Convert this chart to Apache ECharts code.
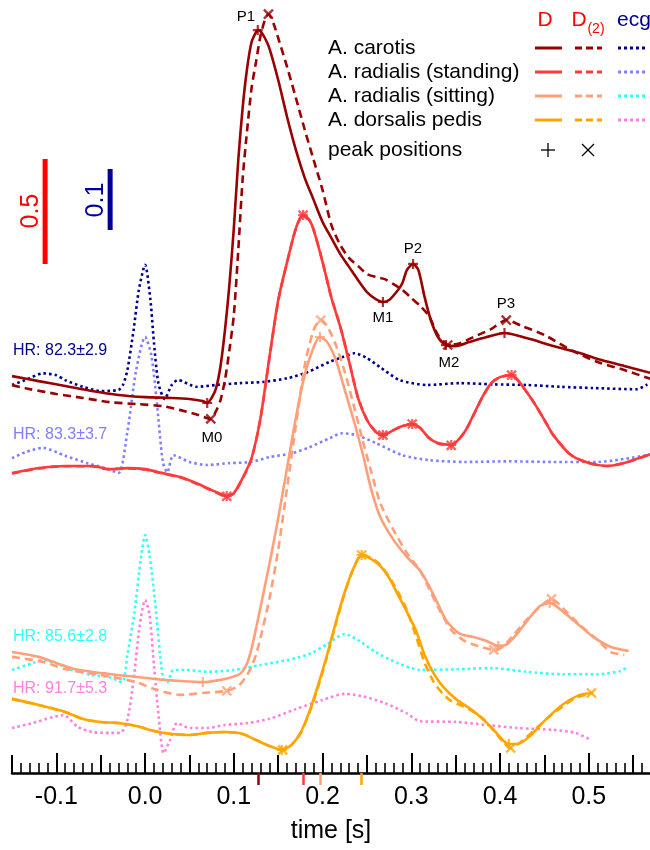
<!DOCTYPE html>
<html>
<head>
<meta charset="utf-8">
<script src="https://cdn.jsdelivr.net/npm/echarts@6/dist/echarts.min.js"></script>
<style>
  html, body { margin: 0; padding: 0; background: #fff; }
  #chart { width: 650px; height: 850px; }
</style>
</head>
<body>
<div id="chart"></div>
<script>
// ---- averaged pulse waves, [time s, D] ----
const carotisD = [[-0.15,0.114],[-0.12,0.090],[-0.09,0.067],[-0.06,0.043],[-0.03,0.024],[0.0,0.014],[0.03,0.010],[0.05,0.005],[0.065,-0.005],[0.07,-0.014],[0.075,0.010],[0.08,0.057],[0.085,0.162],[0.09,0.333],[0.095,0.548],[0.10,0.819],[0.105,1.143],[0.11,1.395],[0.115,1.581],[0.12,1.705],[0.125,1.752],[0.127,1.762],[0.13,1.757],[0.135,1.724],[0.14,1.676],[0.15,1.524],[0.16,1.348],[0.17,1.190],[0.18,1.057],[0.19,0.952],[0.20,0.848],[0.21,0.771],[0.22,0.695],[0.23,0.633],[0.24,0.571],[0.25,0.514],[0.26,0.481],[0.268,0.467],[0.275,0.476],[0.285,0.524],[0.29,0.557],[0.295,0.619],[0.302,0.648],[0.308,0.619],[0.315,0.490],[0.322,0.381],[0.33,0.300],[0.339,0.262],[0.35,0.257],[0.365,0.276],[0.385,0.300],[0.405,0.319],[0.43,0.295],[0.46,0.257],[0.49,0.224],[0.51,0.195],[0.54,0.162],[0.57,0.129]];
const carotisD2 = [[-0.15,0.071],[-0.13,0.052],[-0.10,0.029],[-0.07,0.010],[-0.04,-0.010],[-0.01,-0.019],[0.02,-0.029],[0.04,-0.048],[0.06,-0.071],[0.074,-0.090],[0.08,-0.052],[0.085,0.0],[0.09,0.095],[0.095,0.238],[0.10,0.405],[0.105,0.714],[0.11,1.057],[0.115,1.286],[0.12,1.486],[0.125,1.610],[0.13,1.733],[0.135,1.810],[0.139,1.838],[0.145,1.790],[0.15,1.724],[0.16,1.586],[0.17,1.438],[0.18,1.286],[0.19,1.143],[0.20,1.000],[0.21,0.833],[0.22,0.738],[0.23,0.676],[0.24,0.638],[0.25,0.600],[0.26,0.586],[0.27,0.576],[0.28,0.552],[0.29,0.524],[0.30,0.486],[0.31,0.448],[0.32,0.400],[0.33,0.310],[0.341,0.262],[0.355,0.271],[0.37,0.300],[0.39,0.338],[0.407,0.381],[0.425,0.352],[0.45,0.310],[0.48,0.238],[0.51,0.181],[0.54,0.143],[0.57,0.100]];

const standingD = [[-0.15,0.033],[-0.12,0.057],[-0.09,0.067],[-0.06,0.067],[-0.04,0.052],[-0.02,0.057],[0.0,0.052],[0.02,0.033],[0.04,0.014],[0.06,-0.019],[0.08,-0.057],[0.092,-0.076],[0.10,-0.062],[0.11,0.010],[0.12,0.105],[0.13,0.295],[0.14,0.581],[0.15,0.857],[0.16,1.038],[0.17,1.200],[0.178,1.262],[0.185,1.238],[0.19,1.190],[0.20,1.038],[0.21,0.867],[0.22,0.729],[0.23,0.562],[0.24,0.390],[0.25,0.286],[0.26,0.229],[0.268,0.214],[0.28,0.238],[0.29,0.257],[0.301,0.267],[0.31,0.248],[0.32,0.200],[0.33,0.176],[0.345,0.167],[0.36,0.229],[0.37,0.310],[0.38,0.395],[0.39,0.462],[0.40,0.490],[0.413,0.500],[0.42,0.476],[0.43,0.419],[0.44,0.357],[0.45,0.286],[0.46,0.214],[0.48,0.119],[0.50,0.081],[0.52,0.067],[0.54,0.081],[0.57,0.124]];
const standingD2 = [[-0.15,0.031],[-0.12,0.055],[-0.09,0.066],[-0.06,0.066],[-0.04,0.050],[-0.02,0.055],[0.0,0.050],[0.02,0.031],[0.04,0.012],[0.06,-0.021],[0.08,-0.059],[0.092,-0.078],[0.10,-0.064],[0.11,0.008],[0.12,0.102],[0.13,0.292],[0.14,0.578],[0.15,0.852],[0.16,1.036],[0.17,1.198],[0.178,1.262],[0.185,1.240],[0.19,1.192],[0.20,1.040],[0.21,0.869],[0.22,0.731],[0.23,0.564],[0.24,0.392],[0.25,0.288],[0.26,0.230],[0.268,0.214],[0.28,0.238],[0.29,0.257],[0.301,0.267],[0.31,0.248],[0.32,0.200],[0.33,0.174],[0.345,0.165],[0.36,0.227],[0.37,0.308],[0.38,0.393],[0.39,0.460],[0.40,0.490],[0.413,0.500],[0.42,0.476],[0.43,0.419],[0.44,0.357],[0.45,0.286],[0.46,0.214],[0.48,0.119],[0.50,0.081],[0.52,0.067],[0.54,0.081],[0.57,0.124]];

const sittingD = [[-0.15,0.133],[-0.12,0.110],[-0.10,0.081],[-0.08,0.052],[-0.05,0.033],[-0.02,0.019],[0.01,0.005],[0.04,-0.005],[0.065,-0.010],[0.09,0.005],[0.105,0.024],[0.11,0.043],[0.115,0.080],[0.12,0.150],[0.125,0.245],[0.13,0.345],[0.14,0.550],[0.15,0.770],[0.16,1.010],[0.17,1.250],[0.18,1.455],[0.19,1.586],[0.197,1.633],[0.205,1.610],[0.215,1.524],[0.225,1.381],[0.235,1.238],[0.245,1.081],[0.255,0.905],[0.265,0.776],[0.28,0.667],[0.295,0.586],[0.31,0.520],[0.32,0.448],[0.33,0.362],[0.34,0.280],[0.355,0.219],[0.37,0.205],[0.385,0.186],[0.398,0.162],[0.408,0.171],[0.42,0.224],[0.432,0.290],[0.445,0.352],[0.456,0.367],[0.47,0.329],[0.485,0.276],[0.505,0.205],[0.525,0.157],[0.545,0.138]];
const sittingD2 = [[-0.15,0.110],[-0.115,0.086],[-0.09,0.052],[-0.05,0.024],[-0.01,-0.010],[0.01,-0.043],[0.04,-0.071],[0.065,-0.062],[0.092,-0.052],[0.105,-0.029],[0.115,0.024],[0.12,0.065],[0.125,0.120],[0.13,0.200],[0.14,0.385],[0.15,0.620],[0.16,0.915],[0.17,1.214],[0.18,1.500],[0.19,1.667],[0.198,1.714],[0.205,1.686],[0.215,1.595],[0.225,1.467],[0.235,1.310],[0.245,1.143],[0.255,0.990],[0.265,0.843],[0.28,0.714],[0.295,0.605],[0.31,0.520],[0.32,0.435],[0.33,0.348],[0.345,0.238],[0.36,0.186],[0.375,0.162],[0.393,0.143],[0.403,0.157],[0.415,0.214],[0.43,0.286],[0.445,0.348],[0.458,0.386],[0.475,0.324],[0.49,0.262],[0.51,0.190],[0.525,0.133],[0.54,0.119]];

const pedisD = [[-0.15,0.148],[-0.12,0.119],[-0.09,0.086],[-0.07,0.052],[-0.05,0.038],[-0.03,0.033],[-0.01,0.019],[0.01,-0.005],[0.03,-0.019],[0.05,-0.024],[0.07,-0.014],[0.09,-0.010],[0.11,-0.019],[0.125,-0.048],[0.14,-0.076],[0.154,-0.095],[0.165,-0.071],[0.175,-0.014],[0.185,0.086],[0.195,0.214],[0.205,0.357],[0.215,0.514],[0.225,0.657],[0.235,0.771],[0.244,0.833],[0.255,0.814],[0.265,0.781],[0.275,0.724],[0.285,0.643],[0.295,0.562],[0.305,0.476],[0.315,0.357],[0.325,0.271],[0.335,0.210],[0.35,0.148],[0.37,0.090],[0.39,0.014],[0.41,-0.067],[0.42,-0.067],[0.435,-0.024],[0.45,0.043],[0.47,0.119],[0.49,0.167],[0.505,0.176]];
const pedisD2 = [[-0.15,0.148],[-0.12,0.119],[-0.09,0.086],[-0.07,0.052],[-0.05,0.038],[-0.03,0.033],[-0.01,0.019],[0.01,-0.005],[0.03,-0.019],[0.05,-0.024],[0.07,-0.014],[0.09,-0.010],[0.11,-0.019],[0.125,-0.048],[0.14,-0.076],[0.155,-0.095],[0.165,-0.071],[0.175,-0.019],[0.185,0.081],[0.195,0.205],[0.205,0.348],[0.215,0.505],[0.225,0.652],[0.235,0.771],[0.244,0.833],[0.255,0.819],[0.265,0.786],[0.275,0.729],[0.285,0.657],[0.295,0.571],[0.305,0.450],[0.315,0.320],[0.325,0.230],[0.335,0.175],[0.345,0.138],[0.36,0.110],[0.38,0.057],[0.395,-0.014],[0.412,-0.086],[0.425,-0.052],[0.44,0.005],[0.455,0.062],[0.47,0.110],[0.485,0.152],[0.503,0.176]];

// ---- averaged ECG, [time s, mV], R peak at t = 0 ----
const ecgCarotis = [[-0.15,-0.008],[-0.135,0.000],[-0.115,0.011],[-0.10,0.008],[-0.09,0.000],[-0.07,-0.011],[-0.05,-0.018],[-0.03,-0.016],[-0.025,-0.008],[-0.02,0.016],[-0.013,0.082],[-0.007,0.148],[0.0,0.189],[0.006,0.131],[0.01,0.061],[0.015,-0.005],[0.022,-0.031],[0.03,-0.008],[0.037,0.000],[0.058,-0.011],[0.08,-0.008],[0.107,-0.005],[0.133,-0.003],[0.16,0.003],[0.183,0.013],[0.208,0.030],[0.223,0.038],[0.236,0.044],[0.25,0.036],[0.265,0.021],[0.287,0.000],[0.318,-0.008],[0.355,-0.005],[0.392,-0.007],[0.43,-0.008],[0.468,-0.011],[0.505,-0.013],[0.554,-0.015],[0.566,-0.007]];
const ecgStanding = [[-0.15,0.003],[-0.135,0.013],[-0.115,0.020],[-0.09,0.007],[-0.065,-0.005],[-0.045,-0.013],[-0.03,-0.021],[-0.02,0.046],[-0.01,0.148],[0.0,0.202],[0.007,0.172],[0.013,0.098],[0.02,-0.003],[0.025,-0.020],[0.032,0.008],[0.05,-0.003],[0.07,-0.008],[0.095,-0.005],[0.12,-0.003],[0.14,0.005],[0.165,0.011],[0.185,0.021],[0.208,0.036],[0.222,0.044],[0.238,0.041],[0.26,0.028],[0.29,0.008],[0.32,0.000],[0.36,-0.003],[0.41,-0.002],[0.46,-0.003],[0.51,-0.003],[0.565,0.008]];
const ecgSitting = [[-0.15,-0.008],[-0.127,0.003],[-0.115,0.008],[-0.10,0.003],[-0.088,-0.005],[-0.062,-0.016],[-0.04,-0.020],[-0.026,-0.028],[-0.02,0.016],[-0.012,0.087],[-0.005,0.172],[0.0,0.213],[0.005,0.180],[0.011,0.107],[0.02,-0.021],[0.025,-0.028],[0.032,-0.008],[0.047,-0.008],[0.07,-0.011],[0.10,-0.008],[0.13,0.000],[0.16,0.008],[0.185,0.018],[0.205,0.034],[0.225,0.051],[0.24,0.041],[0.26,0.021],[0.285,0.003],[0.31,-0.008],[0.35,-0.007],[0.39,-0.005],[0.43,-0.011],[0.47,-0.015],[0.51,-0.015],[0.535,-0.010],[0.545,-0.002]];
const ecgPedis = [[-0.15,-0.013],[-0.127,-0.005],[-0.104,0.005],[-0.092,0.008],[-0.076,-0.011],[-0.058,-0.020],[-0.04,-0.021],[-0.028,-0.021],[-0.02,0.000],[-0.013,0.066],[-0.006,0.156],[0.0,0.197],[0.005,0.172],[0.01,0.090],[0.015,0.011],[0.021,-0.054],[0.028,-0.033],[0.036,-0.005],[0.05,-0.013],[0.07,-0.013],[0.09,-0.008],[0.115,-0.005],[0.14,0.002],[0.17,0.018],[0.2,0.033],[0.225,0.043],[0.245,0.039],[0.27,0.028],[0.295,0.011],[0.31,-0.002],[0.35,-0.003],[0.385,-0.008],[0.42,-0.013],[0.46,-0.016],[0.485,-0.021],[0.503,-0.033]];

// ---- detected extrema (time s) ----
const carotisPeaksD  = [0.07, 0.127, 0.268, 0.302, 0.339, 0.405];
const carotisPeaksD2 = [0.074, 0.139, 0.341, 0.407];
const standingPeaksD  = [0.092, 0.178, 0.268, 0.301, 0.345, 0.413];
const standingPeaksD2 = [0.092, 0.178, 0.268, 0.301, 0.345, 0.413];
const sittingPeaksD  = [0.065, 0.197, 0.398, 0.456];
const sittingPeaksD2 = [0.092, 0.198, 0.393, 0.458];
const pedisPeaksD  = [0.154, 0.244, 0.41];
const pedisPeaksD2 = [0.155, 0.244, 0.412, 0.503];

const heartRates = ['HR: 82.3±2.9', 'HR: 83.3±3.7', 'HR: 85.6±2.8', 'HR: 91.7±5.3'];
const siteNames = ['A. carotis', 'A. radialis (standing)', 'A. radialis (sitting)', 'A. dorsalis pedis'];
const tickLabels = [-0.1, 0.0, 0.1, 0.2, 0.3, 0.4, 0.5];

// ---- layout of the stacked traces (vertical units = D) ----
const FONT = '"Liberation Sans", Arial, sans-serif';
const T_MIN = -0.15, T_MAX = 0.569;
const Y_MAX = 3.681;
const ECG_GAIN = 2.905;            // D-units shown per mV
const pulseOffset = [1.776, 1.395, 0.443, 0.205];
const ecgOffset = [1.871, 1.490, 0.514, 0.252];
const pulseColor = ['#990000', '#ff3b3b', '#ffa07a', '#ffa500'];
const ecgColor = ['#00008b', '#8080ff', '#33ffff', '#ff80e0'];

const pulses = [[carotisD, carotisD2], [standingD, standingD2], [sittingD, sittingD2], [pedisD, pedisD2]];
const ecgs = [ecgCarotis, ecgStanding, ecgSitting, ecgPedis];
const peaks = [[carotisPeaksD, carotisPeaksD2], [standingPeaksD, standingPeaksD2], [sittingPeaksD, sittingPeaksD2], [pedisPeaksD, pedisPeaksD2]];

const PLUS = 'path://M0,5L10,5M5,0L5,10';
const CROSS = 'path://M0,0L10,10M10,0L0,10';

function shift(data, off, gain) {
  return data.map(p => [p[0], p[1] * gain + off]);
}
function pick(data, times) {
  return times.map(t => data.find(p => Math.abs(p[0] - t) < 1e-9)).filter(Boolean);
}
function peakTime(data) {
  return data.reduce((a, b) => (b[1] > a[1] ? b : a))[0];
}

const series = [];
ecgs.forEach((d, i) => {
  series.push({
    type: 'line', data: shift(d, ecgOffset[i], ECG_GAIN), symbol: 'none', smooth: 0.25,
    lineStyle: { color: ecgColor[i], width: 2.6, type: [2.6, 3], cap: 'butt' }, z: 2, silent: true
  });
});
pulses.forEach((pair, i) => {
  series.push({
    type: 'line', data: shift(pair[0], pulseOffset[i], 1), symbol: 'none', smooth: 0.25,
    lineStyle: { color: pulseColor[i], width: 2.6 }, z: 3, silent: true
  });
  series.push({
    type: 'line', data: shift(pair[1], pulseOffset[i], 1), symbol: 'none', smooth: 0.25,
    lineStyle: { color: pulseColor[i], width: 2.6, type: [8, 5] }, z: 3, silent: true
  });
});
peaks.forEach((pair, i) => {
  series.push({
    type: 'scatter', data: shift(pick(pulses[i][0], pair[0]), pulseOffset[i], 1),
    symbol: PLUS, symbolSize: 10, z: 5, silent: true,
    itemStyle: { color: 'transparent', borderColor: pulseColor[i], borderWidth: 2.2 }
  });
  series.push({
    type: 'scatter', data: shift(pick(pulses[i][1], pair[1]), pulseOffset[i], 1),
    symbol: CROSS, symbolSize: 9, z: 5, silent: true,
    itemStyle: { color: 'transparent', borderColor: pulseColor[i], borderWidth: 2.4 }
  });
});

// scale bars: 0.5 (D) and 0.1 mV (ecg)
const barD = { t: -0.1127, base: 2.424, size: 0.5 };
const barEcg = { t: -0.0394, base: 2.586, size: 0.1 };
series.push({
  type: 'line', data: [[barD.t, barD.base], [barD.t, barD.base + barD.size]], symbol: 'none',
  lineStyle: { color: '#ff0000', width: 5, cap: 'butt' }, z: 4, silent: true
});
series.push({
  type: 'line', data: [[barEcg.t, barEcg.base], [barEcg.t, barEcg.base + barEcg.size * ECG_GAIN]], symbol: 'none',
  lineStyle: { color: '#000099', width: 5, cap: 'butt' }, z: 4, silent: true
});

// tick positions
const majorTicks = tickLabels.slice();
const midTicks = [], minorTicks = [];
for (let k = -15; k <= 56; k++) {
  const v = Math.round(k) / 100;
  if (k % 5 === 0 && k % 10 !== 0) midTicks.push(v);
  if (k % 5 !== 0) minorTicks.push(v);
}

function tickAxis(values, len, width, color, inside) {
  return {
    type: 'value', min: T_MIN, max: T_MAX, position: 'bottom', gridIndex: 0,
    axisLine: { show: false }, splitLine: { show: false },
    axisLabel: { show: false },
    axisTick: { show: true, inside: inside, length: len, customValues: values,
      lineStyle: { color: color, width: width } }
  };
}

const xAxes = [
  {
    type: 'value', min: T_MIN, max: T_MAX, position: 'bottom',
    name: 'time [s]', nameLocation: 'middle', nameGap: 46,
    nameTextStyle: { fontSize: 25, color: '#000', fontFamily: FONT },
    axisLine: { show: true, lineStyle: { color: '#000', width: 2.5 } },
    splitLine: { show: false },
    axisTick: { show: true, inside: true, length: 20, customValues: majorTicks, lineStyle: { color: '#000', width: 2 } },
    axisLabel: { show: true, customValues: tickLabels, margin: 12, fontSize: 25, color: '#000', fontFamily: FONT,
      formatter: v => v.toFixed(1) }
  },
  tickAxis(midTicks, 18, 2, '#000', true),
  tickAxis(minorTicks, 10, 1.6, '#000', true)
];
pulses.forEach((pair, i) => {
  xAxes.push(tickAxis([peakTime(pair[0])], 12, 2.5, pulseColor[i], false));
});

// text and legend
const graphic = [];
function text(x, y, str, size, color, align, extra) {
  graphic.push(Object.assign({
    type: 'text', x: x, y: y, silent: true,
    style: { text: str, fill: color, font: size + 'px ' + FONT,
      textAlign: align || 'left', align: align || 'left', textVerticalAlign: 'middle', verticalAlign: 'middle' }
  }, extra || {}));
}
function seg(x1, y1, x2, y2, color, w, dash) {
  graphic.push({ type: 'line', silent: true, shape: { x1, y1, x2, y2 },
    style: { stroke: color, lineWidth: w, lineDash: dash || null } });
}

text(31, 211, '0.5', 25, '#ff0000', 'center', { rotation: Math.PI / 2 });
text(96, 200, '0.1', 25, '#000099', 'center', { rotation: Math.PI / 2 });

const hrY = [351, 435, 637, 689];
heartRates.forEach((s, i) => text(13, hrY[i], s, 16, ecgColor[i], 'left'));

text(246, 17, 'P1', 15, '#000', 'center');
text(413, 249, 'P2', 15, '#000', 'center');
text(506, 304, 'P3', 15, '#000', 'center');
text(383, 318, 'M1', 15, '#000', 'center');
text(449, 363, 'M2', 15, '#000', 'center');
text(212, 438, 'M0', 15, '#000', 'center');

text(545, 20, 'D', 21, '#ff0000', 'center');
text(579, 20, 'D', 21, '#ff0000', 'center');
text(596, 29, '(2)', 14, '#ff0000', 'center');
text(617, 20, 'ecg', 21, '#00008b', 'left');

const rowY = [48, 72, 96, 120];
siteNames.forEach((s, i) => {
  text(328, rowY[i], s, 21, '#000', 'left');
  seg(535, rowY[i], 562, rowY[i], pulseColor[i], 3);
  seg(575, rowY[i], 602, rowY[i], pulseColor[i], 3, [7, 4]);
  seg(618, rowY[i], 646, rowY[i], ecgColor[i], 3, [3, 3]);
});
text(328, 150, 'peak positions', 21, '#000', 'left');
seg(541, 150, 555, 150, '#000', 1.3);
seg(548, 143, 548, 157, '#000', 1.3);
seg(582, 144, 594, 156, '#000', 1.3);
seg(594, 144, 582, 156, '#000', 1.3);

const chart = echarts.init(document.getElementById('chart'), null, { renderer: 'canvas' });
chart.setOption({
  animation: false,
  backgroundColor: '#fff',
  textStyle: { fontFamily: FONT },
  grid: { left: 12, right: 0, top: 0, bottom: 77, containLabel: false },
  xAxis: xAxes,
  yAxis: { type: 'value', min: 0, max: Y_MAX, show: false },
  series: series,
  graphic: graphic
});
</script>
</body>
</html>
